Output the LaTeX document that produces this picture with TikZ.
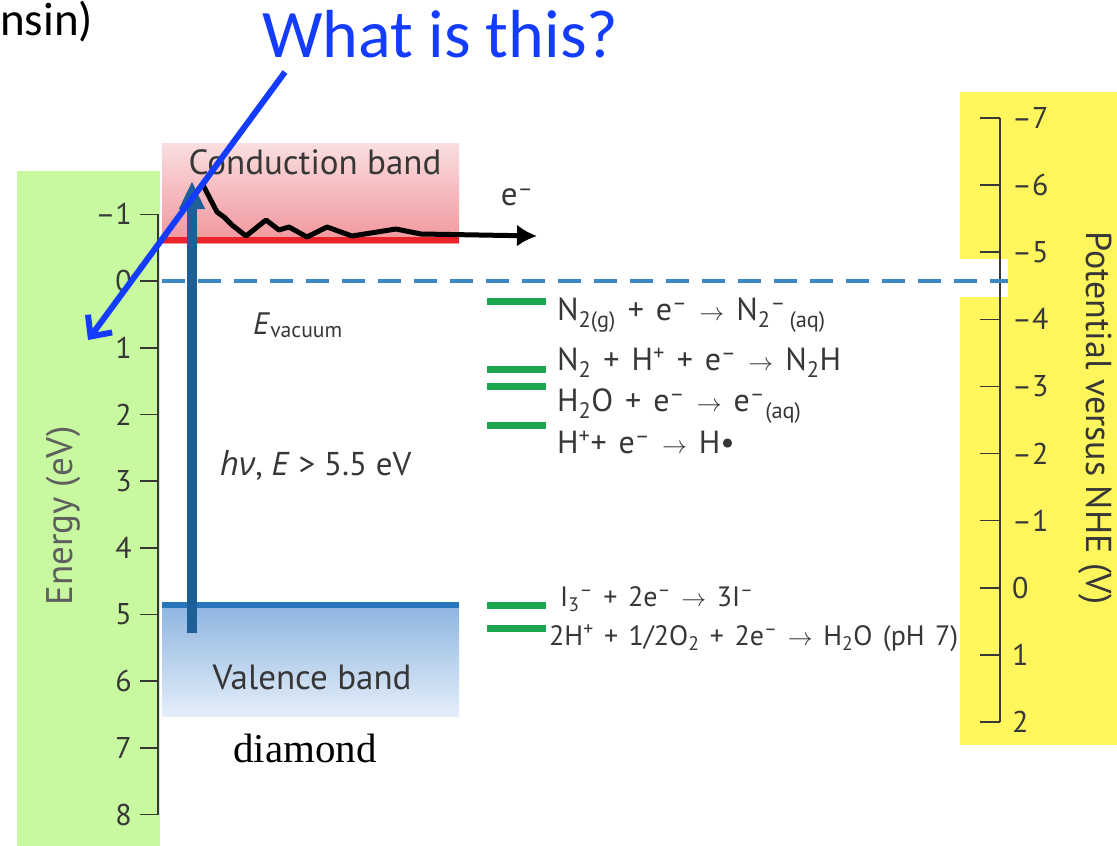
\documentclass[tikz,border=0pt]{standalone}
\usepackage{fontspec}
\setmainfont{PT Sans}
\newfontfamily\calib{Carlito}
\newfontfamily\timesf{Liberation Serif}
\newfontfamily\grkfont{Open Sans}
\newfontfamily\rxnfont[WordSpace=1.4]{PT Sans}
\usetikzlibrary{arrows.meta}

\definecolor{axisgreen}{RGB}{200,248,160}
\definecolor{axisyellow}{RGB}{255,246,94}
\definecolor{txtgray}{RGB}{55,55,55}
\definecolor{lblgray}{RGB}{95,95,95}
\definecolor{cbtop}{RGB}{250,222,224}
\definecolor{cbbot}{RGB}{240,150,156}
\definecolor{cbred}{RGB}{232,36,42}
\definecolor{vbtop}{RGB}{140,180,224}
\definecolor{vbbot}{RGB}{228,238,249}
\definecolor{vbline}{RGB}{40,118,186}
\definecolor{excblue}{RGB}{30,95,152}
\definecolor{vacblue}{RGB}{60,135,200}
\definecolor{lvlgreen}{RGB}{30,165,80}
\definecolor{askblue}{RGB}{20,60,255}

\newcommand\ssup[1]{\textsuperscript{#1}}
\newcommand\ssub[1]{\textsubscript{#1}}

\begin{document}
\begin{tikzpicture}[x=1pt,y=-1pt,
	ticklbl/.style={font=\fontsize{30}{36}\selectfont, text=txtgray, inner sep=0pt},
	axisline/.style={draw=txtgray, line width=1.6pt},
	rxn/.style={font=\rxnfont\fontsize{32}{36}\selectfont, text=txtgray, inner sep=0pt, anchor=base west},
	rxnsmall/.style={rxn, font=\rxnfont\fontsize{28}{32}\selectfont},
	level/.style={draw=lvlgreen, line width=7pt},
	bandlbl/.style={font=\fontsize{35}{40}\selectfont, text=txtgray, inner sep=0pt},
	plainlbl/.style={font=\fontsize{33}{38}\selectfont, text=txtgray, inner sep=0pt}
]
	\useasboundingbox (0,0) rectangle (1117,846);

	% coloured axis strips
	\fill[axisgreen] (17,171) rectangle (160,846);
	\fill[axisyellow] (960,92) rectangle (1117,745);
	\fill[white] (958,259) rectangle (1008,297);

	% bands
	\shade[top color=cbtop, bottom color=cbbot] (162,143) rectangle (459,243);
	\draw[cbred, line width=6pt] (162,240) -- (459,240);
	\shade[top color=vbtop, bottom color=vbbot] (162,603) rectangle (459,716);
	\draw[vbline, line width=6pt] (162,605) -- (459,605);

	% energy axis (left)
	\draw[axisline] (158,214.3) -- (158,814.6);
	\foreach \e/\lbl in {-1/–1,0/0,1/1,2/2,3/3,4/4,5/5,6/6,7/7,8/8} {
		\draw[axisline] (140,{281+66.7*\e}) -- (158,{281+66.7*\e});
		\node[ticklbl, anchor=east] (el\e) at (132,{281+66.7*\e}) {\lbl};
	}
	\node[ticklbl, font=\fontsize{37}{42}\selectfont, text=lblgray, rotate=90] (energy) at (63,516) {Energy (eV)};

	% potential axis (right)
	\draw[axisline] (1000,118) -- (1000,722);
	\foreach \v/\lbl in {-7/–7,-6/–6,-5/–5,-4/–4,-3/–3,-2/–2,-1/–1,0/0,1/1,2/2} {
		\draw[axisline] (980,{118+67.1*(\v+7)}) -- (1000,{118+67.1*(\v+7)});
		\node[ticklbl, anchor=west] (pl\v) at (1012,{118+67.1*(\v+7)}) {\lbl};
	}
	\node[ticklbl, font=\fontsize{36}{40}\selectfont, rotate=-90] (potential) at (1095,418) {Potential versus NHE (V)};

	% vacuum level
	\draw[vacblue, line width=4pt, dash pattern=on 23pt off 13pt] (162,281) -- (1008,281);

	% redox levels
	\draw[level] (487,301) -- (546,301);
	\draw[level] (487,369) -- (546,369);
	\draw[level] (487,386) -- (546,386);
	\draw[level] (487,425) -- (546,425);
	\draw[level] (487,605) -- (546,605);
	\draw[level] (487,628) -- (546,628);

	\node[rxn] (r1) at (557,320) {N\ssub{2(g)} + e\ssup{–} $\rightarrow$ N\ssub{2}\ssup{–}\ssub{\,(aq)}};
	\node[rxn] (r2) at (557,370) {N\ssub{2} + H\ssup{+} + e\ssup{–} $\rightarrow$ N\ssub{2}H};
	\node[rxn] (r3) at (557,411) {H\ssub{2}O + e\ssup{–} $\rightarrow$ e\ssup{–}\ssub{(aq)}};
	\node[rxn] (r4) at (557,453) {H\ssup{+}+ e\ssup{–} $\rightarrow$ H•};
	\node[rxnsmall] (r5) at (560,606) {I\ssub{3}\ssup{–} + 2e\ssup{–} $\rightarrow$ 3I\ssup{–}};
	\node[rxnsmall] (r6) at (549,645) {2H\ssup{+} + 1/2O\ssub{2} + 2e\ssup{–} $\rightarrow$ H\ssub{2}O (pH 7)};

	% band labels
	\node[bandlbl] (cblbl) at (315,162) {Conduction band};
	\node[bandlbl] (vblbl) at (312,677) {Valence band};
	\node[font=\timesf\fontsize{41}{46}\selectfont, inner sep=0pt] (material) at (305,748) {diamond};
	\node[plainlbl, font=\fontsize{31}{36}\selectfont, anchor=base west] (evac) at (253,334) {\textit{E}\ssub{vacuum}};
	\node[plainlbl, anchor=base west] (photon) at (220,475) {{\grkfont\itshape hν}, \textit{E} > 5.5 eV};
	\node[plainlbl] (elec) at (517,197) {e\ssup{–}};

	% excitation and hot electron
	\coordinate (vbot) at (192,633);
	\coordinate (ctip) at (192,181);
	\coordinate (hot) at (203,185);
	\coordinate (eout) at (537,236);
	\draw[excblue, line width=10pt, -{Triangle[length=28pt,width=24pt]}] (vbot) -- (ctip);
	\draw[black, line width=5pt, line join=round, -{Latex[length=20pt,width=22pt]}]
		(hot) -- (217,212) -- (224,217) -- (232,225) -- (246,236) -- (266,220)
		-- (279,230) -- (289,227) -- (307,237) -- (327,227) -- (352,236)
		-- (396,229) -- (421,234) -- (eout);

	% question overlay
	\node[font=\calib\fontsize{47}{52}\selectfont, anchor=west, inner sep=0pt] (nsin) at (0,22) {nsin)};
	\node[font=\calib\fontsize{68}{74}\selectfont, text=askblue, anchor=base west, inner sep=0pt] (ask) at (262,57) {What is this?};
	\coordinate (askfrom) at (285,72);
	\coordinate (askto) at (88,340);
	\draw[askblue, line width=6pt, -{Straight Barb[length=16pt,width=30pt]}] (askfrom) -- (askto);
\end{tikzpicture}
\end{document}
